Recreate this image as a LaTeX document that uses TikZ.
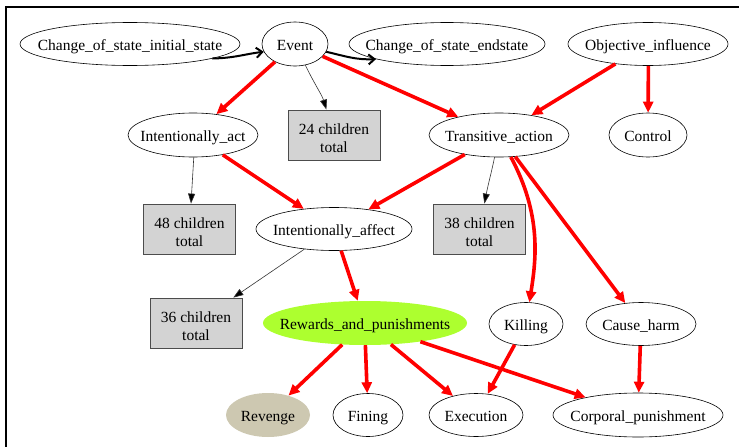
\documentclass[tikz,border=0pt]{standalone}
\usepackage{fontspec}
\setmainfont{Liberation Serif}
\usetikzlibrary{arrows.meta,shapes.geometric}
\definecolor{gyel}{HTML}{ADFF2F}
\definecolor{tanthree}{HTML}{CDC8B1}
\definecolor{boxfill}{HTML}{D3D3D3}
\newcommand{\ntxt}[1]{\makebox[0pt][c]{#1}}
\newcommand{\btxt}[2]{\raisebox{-8.3pt}[0pt][0pt]{\begin{tabular}{@{}c@{}}#1\\#2\end{tabular}}}
\begin{document}
\begin{tikzpicture}[x=1pt,y=-1pt,
 every node/.style={font=\fontsize{15.5}{18}\selectfont, inner sep=0pt},
 ell/.style={draw, ellipse, line width=0.6pt, minimum height=43pt, text height=14pt, text depth=1pt},
 fell/.style={ellipse, minimum height=44pt, text height=14pt, text depth=1pt},
 box/.style={draw=black!70, line width=0.8pt, fill=boxfill, minimum width=92pt, minimum height=50pt},
 redarr/.style={red, line width=3.6pt, -{Triangle[length=11pt,width=10pt]}},
 thinarr/.style={line width=0.6pt, black!80, -{Triangle[length=10pt,width=7pt,fill=black]}},
 blkarr/.style={line width=2pt, -{Straight Barb[length=6pt,width=10pt]}}
]
\useasboundingbox (0,0) rectangle (739,447);
\draw[line width=2pt] (6,447) -- (6,7) -- (739,7);

\node[ell, minimum width=220pt] (ci) at (130,44) {\ntxt{Change\_of\_state\_initial\_state}};
\node[ell, minimum width=66pt, minimum height=44pt] (ev) at (295,44) {\ntxt{Event}};
\node[ell, minimum width=196pt] (ce) at (447,44) {\ntxt{Change\_of\_state\_endstate}};
\node[ell, minimum width=160pt] (oi) at (648,44) {\ntxt{Objective\_influence}};
\node[ell, minimum width=130pt, minimum height=44pt] (ia) at (193,135) {\ntxt{Intentionally\_act}};
\node[box] (c24) at (334,135) {\btxt{24 children}{total}};
\node[ell, minimum width=140pt, minimum height=44pt] (ta) at (499,135) {\ntxt{Transitive\_action}};
\node[ell, minimum width=78pt, minimum height=44pt] (ctl) at (648,135) {\ntxt{Control}};
\node[box] (c48) at (189.5,229) {\btxt{48 children}{total}};
\node[ell, minimum width=156pt] (iaf) at (334,229) {\ntxt{Intentionally\_affect}};
\node[box] (c38) at (479.5,229) {\btxt{38 children}{total}};
\node[box] (c36) at (196,323) {\btxt{36 children}{total}};
\node[fell, fill=gyel, minimum width=204pt] (rp) at (365,323) {\ntxt{Rewards\_and\_punishments}};
\node[ell, minimum width=74pt] (kil) at (526,324) {\ntxt{Killing}};
\node[ell, minimum width=110pt] (ch) at (641,324) {\ntxt{Cause\_harm}};
\node[fell, fill=tanthree, minimum width=84pt] (rev) at (268,415) {\ntxt{Revenge}};
\node[ell, minimum width=70pt] (fin) at (368,415) {\ntxt{Fining}};
\node[ell, minimum width=94pt] (exe) at (476,415) {\ntxt{Execution}};
\node[ell, minimum width=170pt, minimum height=44pt] (cp) at (638,415) {\ntxt{Corporal\_punishment}};

\draw[blkarr] (ci.-10.5) .. controls (235,58) and (245,54) .. (ev.-166);
\draw[blkarr] (ev.-14) .. controls (345,56) and (355,60) .. (ce.-168);

\draw[redarr] (ev) -- (ia);
\draw[redarr] (ev) -- (ta);
\draw[thinarr] (ev) .. controls (315,85) and (322,95) .. (c24);
\draw[redarr] (oi) -- (ta);
\draw[redarr] (oi.-89) -- (ctl);
\draw[thinarr] (ia.-88) -- (c48);
\draw[redarr] (ia) -- (iaf);
\draw[redarr] (ta) -- (iaf);
\draw[thinarr] (ta) .. controls (492,170) and (488,185) .. (c38);
\draw[redarr] (ta) .. controls (542,215) and (536,260) .. (kil);
\draw[redarr] (ta) -- (ch);
\draw[thinarr] (iaf) -- (c36);
\draw[redarr] (iaf) -- (rp);
\draw[redarr] (rp) -- (rev);
\draw[redarr] (rp.-89) -- (fin);
\draw[redarr] (rp) -- (exe);
\draw[redarr] (rp) -- (cp);
\draw[redarr] (kil) -- (exe);
\draw[redarr] (ch) -- (cp);
\end{tikzpicture}
\end{document}
